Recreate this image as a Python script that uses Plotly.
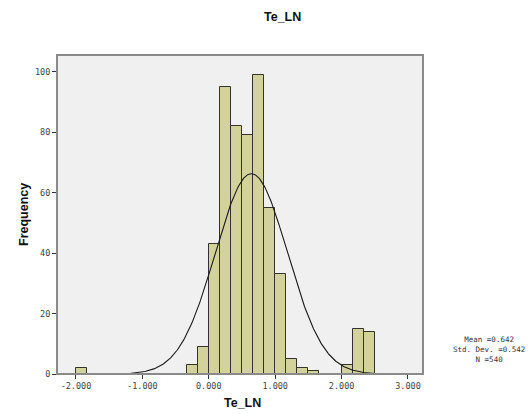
import numpy as np
import plotly.graph_objects as go

# ---- data ----
bin_width = 1.0 / 6.0
bin_starts = [-2.0, -1/3, -1/6, 0.0, 1/6, 1/3, 0.5, 2/3, 5/6, 1.0, 7/6, 4/3, 1.5, 2.0, 13/6, 7/3]
counts = [2, 3, 9, 43, 95, 82, 79, 99, 55, 33, 5, 2, 1, 3, 15, 14]
mean_val = 0.642
sd_val = 0.542
n_val = 540
x_ticks = [-2, -1, 0, 1, 2, 3]
x_tick_labels = ["-2.000", "-1.000", "0.000", "1.000", "2.000", "3.000"]
y_ticks = [0, 20, 40, 60, 80, 100]
y_tick_labels = ["0", "20", "40", "60", "80", "100"]

centers = [s + bin_width / 2 for s in bin_starts]

# fitted normal curve from stated statistics
xc = np.linspace(-2.0, 2.5, 400)
yc = n_val * bin_width / (sd_val * np.sqrt(2 * np.pi)) * np.exp(-0.5 * ((xc - mean_val) / sd_val) ** 2)

W, H = 528, 414
L, R, T, B = 57, 423, 55, 374

fig = go.Figure()
fig.add_trace(go.Bar(
    x=centers, y=counts, width=[bin_width] * len(centers),
    marker=dict(color="#d4d29c", line=dict(color="#333329", width=1)),
    hoverinfo="skip", showlegend=False,
))
fig.add_trace(go.Scatter(
    x=xc, y=yc, mode="lines", line=dict(color="#1a1a1a", width=1.1),
    hoverinfo="skip", showlegend=False,
))

tick_font = dict(family="DejaVu Sans Mono", size=8.5, color="#444444")

fig.update_layout(
    width=W, height=H,
    margin=dict(l=L, r=W - R, t=T, b=H - B, pad=0),
    paper_bgcolor="white",
    plot_bgcolor="#f0f0f0",
    bargap=0,
    xaxis=dict(
        range=[-2.286, 3.226], tickmode="array", tickvals=x_ticks, ticktext=x_tick_labels,
        ticks="outside", ticklen=4, tickwidth=1, tickcolor="#333333",
        showgrid=False, zeroline=False, showline=True, linecolor="#555555", linewidth=1,
        tickfont=tick_font, fixedrange=True,
    ),
    yaxis=dict(
        range=[0, 105.5], tickmode="array", tickvals=y_ticks, ticktext=y_tick_labels,
        ticks="outside", ticklen=4, tickwidth=1, tickcolor="#333333",
        showgrid=False, zeroline=False, showline=True, linecolor="#555555", linewidth=1,
        tickfont=tick_font, fixedrange=True,
    ),
    shapes=[dict(type="rect", xref="paper", yref="paper", x0=0, x1=1, y0=0, y1=1,
                 line=dict(color="#8a8a8a", width=2), layer="above")],
    annotations=[
        dict(text="<b>Te_LN</b>", xref="paper", yref="paper",
             x=(282 - L) / (R - L), y=(B - 17) / (B - T), xanchor="center", yanchor="middle",
             showarrow=False, font=dict(family="Liberation Sans", size=12.5, color="#111111")),
        dict(text="<b>Te_LN</b>", xref="paper", yref="paper",
             x=(242 - L) / (R - L), y=(B - 403) / (B - T), xanchor="center", yanchor="middle",
             showarrow=False, font=dict(family="Liberation Sans", size=12.5, color="#111111")),
        dict(text="<b>Frequency</b>", xref="paper", yref="paper", textangle=-90,
             x=(24 - L) / (R - L), y=(B - 215) / (B - T), xanchor="center", yanchor="middle",
             showarrow=False, font=dict(family="Liberation Sans", size=12.5, color="#111111")),
        dict(text=f"Mean ={mean_val:.3f}<br>Std. Dev. ={sd_val:.3f}<br>N ={n_val}",
             xref="paper", yref="paper",
             x=(489 - L) / (R - L), y=(B - 349) / (B - T), xanchor="center", yanchor="middle",
             align="center", showarrow=False,
             font=dict(family="DejaVu Sans Mono", size=7.5, color="#333333")),
    ],
)

fig.write_html(
    "out.html",
    config={"displayModeBar": False},
    post_script="document.body.style.margin='0px';document.body.style.overflow='hidden';",
)
